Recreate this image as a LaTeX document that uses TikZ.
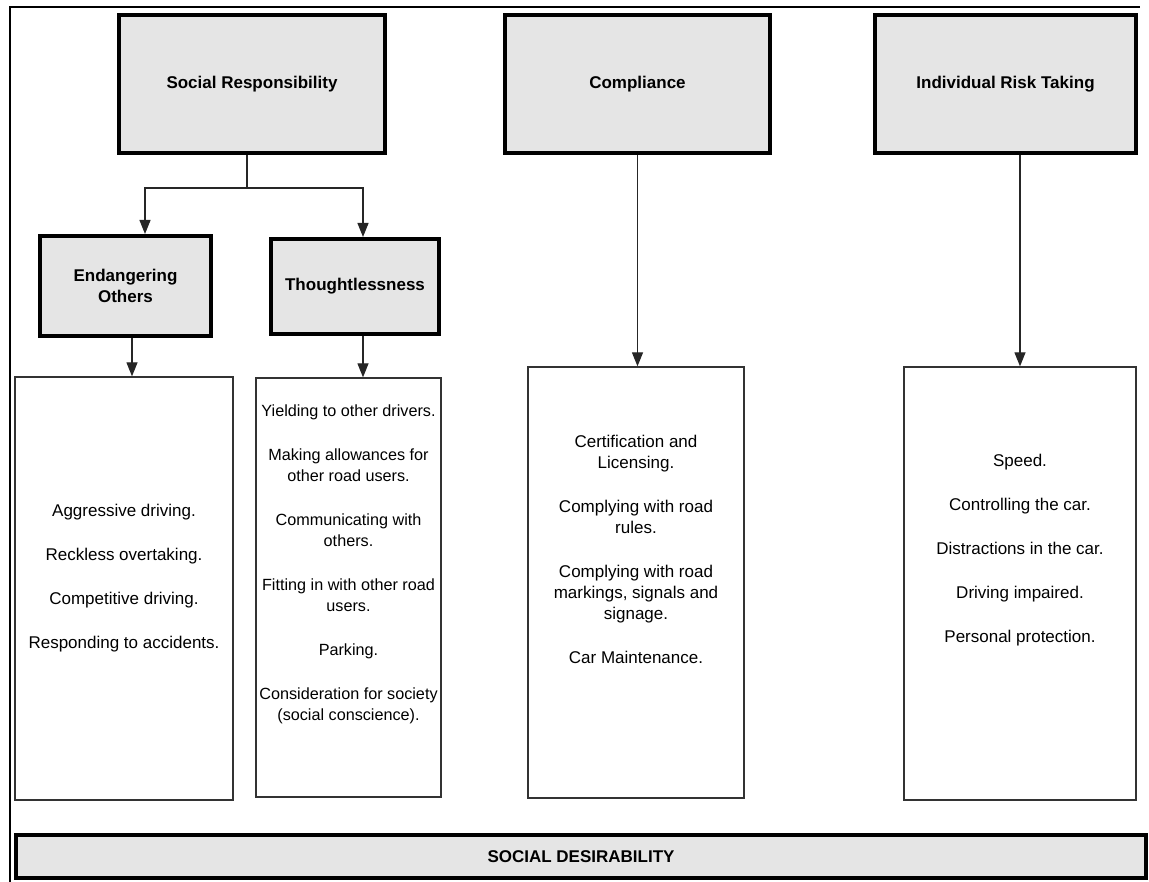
\documentclass[tikz,border=0pt]{standalone}
\usepackage{fontspec}
\setmainfont{Liberation Sans}
\usetikzlibrary{arrows.meta, positioning}
\definecolor{boxgray}{RGB}{229,229,229}

\begin{document}
\begin{tikzpicture}[
  x=1pt, y=-1pt,
  font=\fontsize{17}{21}\selectfont,
  arrow/.style={-{Triangle[length=14pt, width=11pt]}, line width=1.2pt, draw=black!85},
  link/.style={line width=1.2pt, draw=black!85},
  head/.style={draw, line width=4pt, fill=boxgray, font=\fontsize{17}{21}\selectfont\bfseries, align=center, inner sep=0pt},
  itembox/.style={draw=black!80, line width=1.3pt, inner sep=0pt},
  itemtext/.style={align=center, inner sep=0pt},
  bar/.style={draw, line width=4pt, fill=boxgray, font=\fontsize{17}{21}\selectfont\bfseries, inner sep=0pt}
]
\useasboundingbox (0,0) rectangle (1149,882);

% outer frame
\draw[line width=2pt] (10,882) -- (10,7) -- (1140,7);

% =========================
% Top level factors
% =========================
\node[head, minimum width=266, minimum height=138] (socresp) at (252,84) {Social Responsibility};
\node[head, minimum width=265, minimum height=138] (compl) at (637.5,84) {Compliance};
\node[head, minimum width=261, minimum height=138] (risk) at (1005.5,84) {Individual Risk Taking};

% sub factors
\node[head, minimum width=171, minimum height=100] (endanger) at (125.5,286) {Endangering\\Others};
\node[head, minimum width=168, minimum height=95] (thought) at (355,286.5) {Thoughtlessness};

% branch from social responsibility
\coordinate (split) at (247,188);
\draw[link] (socresp.south -| split) -- (split);
\draw[arrow] (split) -| ([xshift=19.5pt]endanger.north);
\draw[arrow] (split) -| ([xshift=8pt]thought.north);

% =========================
% Item boxes
% =========================
\node[itembox, minimum width=218, minimum height=423,
  label={[itemtext, yshift=10.5pt]center:{Aggressive driving.\\[23pt]Reckless overtaking.\\[23pt]Competitive driving.\\[23pt]Responding to accidents.}}] (enditems) at (124,588.5) {};

\node[itembox, minimum width=185, minimum height=419,
  label={[itemtext, font=\fontsize{16.2}{21}\selectfont, yshift=23.5pt]center:{Yielding to other drivers.\\[23pt]Making allowances for\\other road users.\\[23pt]Communicating with\\others.\\[23pt]Fitting in with other road\\users.\\[23pt]Parking.\\[23pt]Consideration for society\\(social conscience).}}] (thoughtitems) at (348.5,587.5) {};

\node[itembox, minimum width=216, minimum height=431,
  label={[itemtext, yshift=33.5pt]center:{Certification and\\Licensing.\\[23pt]Complying with road\\rules.\\[23pt]Complying with road\\markings, signals and\\signage.\\[23pt]Car Maintenance.}}] (complitems) at (636,582.5) {};

\node[itembox, minimum width=232, minimum height=433,
  label={[itemtext, yshift=33.5pt]center:{Speed.\\[23pt]Controlling the car.\\[23pt]Distractions in the car.\\[23pt]Driving impaired.\\[23pt]Personal protection.}}] (riskitems) at (1020,583.5) {};

\draw[arrow] ([xshift=6.5pt]endanger.south) -- ([xshift=6.5pt]endanger.south |- enditems.north);
\draw[arrow] ([xshift=8pt]thought.south) -- ([xshift=8pt]thought.south |- thoughtitems.north);
\draw[arrow] (compl.south) -- (compl.south |- complitems.north);
\draw[arrow] (risk.south -| riskitems.north) -- (riskitems.north);

% =========================
% Bottom bar
% =========================
\node[bar, minimum width=1130, minimum height=43] (socdes) at (581,856.5) {SOCIAL DESIRABILITY};

\end{tikzpicture}
\end{document}
